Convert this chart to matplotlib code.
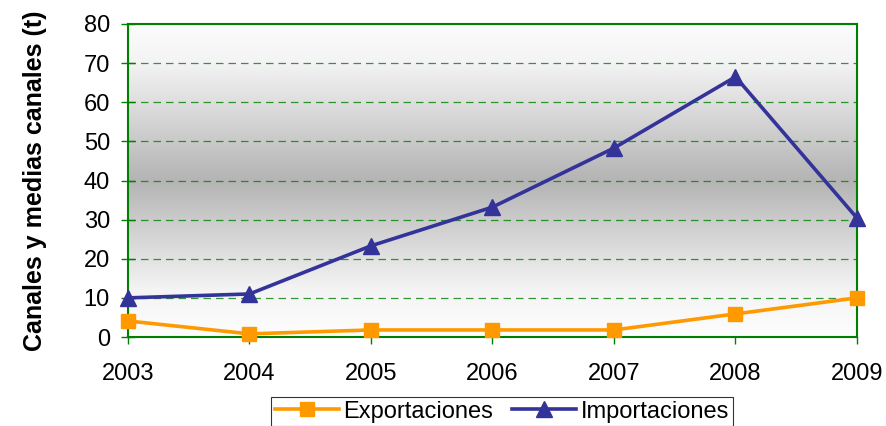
import matplotlib
matplotlib.use("Agg")
import matplotlib.pyplot as plt
import numpy as np
from matplotlib.colors import LinearSegmentedColormap

years = ["2003", "2004", "2005", "2006", "2007", "2008", "2009"]
exportaciones = [4.1, 0.8, 1.8, 1.8, 1.8, 5.9, 10.0]
importaciones = [10.0, 11.0, 23.3, 33.2, 48.3, 66.5, 30.4]
yticks = [0, 10, 20, 30, 40, 50, 60, 70, 80]

plt.rcParams['font.family'] = ['Liberation Sans', 'DejaVu Sans']

fig = plt.figure(figsize=(8.87, 4.26), dpi=100)
ax = fig.add_axes([128/887, 1-337/426, (857-128)/887, (337-24)/426])

green = "#008000"
# gradient background
cmap = LinearSegmentedColormap.from_list("g", [(0.0, "#fcfcfc"), (0.12, "#f4f4f4"), (0.5, "#b4b4b4"), (0.85, "#f4f4f4"), (1.0, "#fdfdfd")])
grad = np.linspace(0, 1, 256).reshape(-1, 1)
ax.imshow(grad, aspect="auto", cmap=cmap, extent=[0, 1, 0, 1], transform=ax.transAxes, zorder=0)

x = np.arange(len(years))
ax.plot(x, exportaciones, color="#FF9900", lw=2.6, marker="s", ms=10, label="Exportaciones", zorder=3, clip_on=False)
ax.plot(x, importaciones, color="#333399", lw=2.6, marker="^", ms=11, label="Importaciones", zorder=3, clip_on=False)

ax.set_xlim(0, len(years) - 1)
ax.set_ylim(0, 80)
ax.set_yticks(yticks)
ax.set_xticks(x)
ax.set_xticklabels(years)
for t in yticks[1:-1]:
    ax.axhline(t, color=green, lw=0.9, ls=(0, (6, 4)), zorder=1, alpha=0.8)

for s in ax.spines.values():
    s.set_color(green)
    s.set_linewidth(1.5)
ax.tick_params(axis="both", colors=green, labelcolor="black", labelsize=17, width=1)
ax.tick_params(axis="x", pad=14, length=5, direction="out")
ax.tick_params(axis="y", pad=8, length=10, direction="inout")
ax.set_ylabel("Canales y medias canales (t)", fontsize=18, fontweight="bold", labelpad=26)

leg = fig.legend(loc="upper center", bbox_to_anchor=(502/887, 1-397/426), ncol=2, fontsize=17,
                 frameon=True, fancybox=False, edgecolor="black", handlelength=2.7,
                 borderpad=0.15, columnspacing=0.8, handletextpad=0.2, borderaxespad=0)
leg.get_frame().set_linewidth(0.8)

fig.savefig("out.png", dpi=100)
